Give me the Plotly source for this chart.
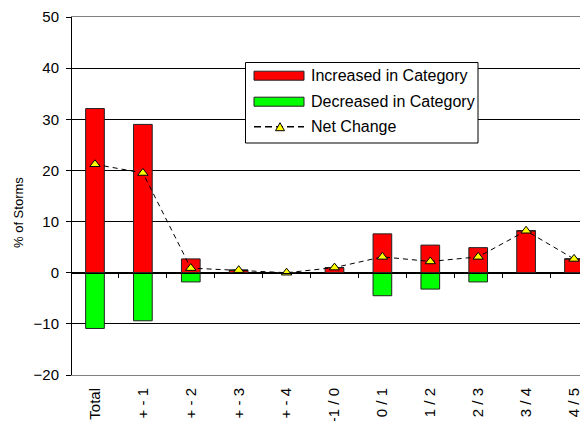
import plotly.graph_objects as go

categories = ["Total", "+ - 1", "+ - 2", "+ - 3", "+ - 4", "-1 / 0",
              "0 / 1", "1 / 2", "2 / 3", "3 / 4", "4 / 5"]
increased = [32.1, 29.0, 2.7, 0.5, 0.0, 1.0, 7.6, 5.4, 4.9, 8.2, 2.7]
decreased = [-10.9, -9.4, -1.8, 0.0, 0.0, 0.0, -4.5, -3.2, -1.8, 0.0, 0.0]
net_change = [21.2, 19.5, 0.9, 0.5, 0.0, 1.0, 3.1, 2.2, 3.1, 8.2, 2.7]
y_ticks = [-20, -10, 0, 10, 20, 30, 40, 50]
legend_labels = ["Increased in Category", "Decreased in Category", "Net Change"]

# the page body has an 8px margin, so the figure is 8px smaller and everything is
# expressed in page pixels (plot area: x 72..588, y 17..375)
OFF = 8
W, H = 588 - OFF, 421 - OFF
L, R, T = 72 - OFF, 0, 17 - OFF
B = H - (375 - OFF)
PW, PH = W - L - R, H - T - B


def px(xp):
    return (xp - OFF - L) / PW


def py(yp):
    return (H - B - (yp - OFF)) / PH


idx = list(range(len(categories)))
FONT = "Liberation Sans, Arial, sans-serif"

fig = go.Figure()
fig.add_trace(go.Bar(x=idx, y=increased, name=legend_labels[0], width=0.39,
                     marker=dict(color="#FF0000", line=dict(color="#222222", width=1)),
                     showlegend=False))
fig.add_trace(go.Bar(x=idx, y=decreased, name=legend_labels[1], width=0.39,
                     marker=dict(color="#00FF00", line=dict(color="#222222", width=1)),
                     showlegend=False))
fig.add_trace(go.Scatter(x=idx, y=net_change, name=legend_labels[2], mode="lines+markers",
                         line=dict(color="black", width=1, dash="5px,4px"),
                         marker=dict(symbol="triangle-up", size=9, color="#FFFF00",
                                     line=dict(color="black", width=1)),
                         showlegend=False))
# dummy trace so the zero-line axis exists
fig.add_trace(go.Scatter(x=[None], y=[None], xaxis="x2", showlegend=False, hoverinfo="skip"))

xr = [-0.48, -0.48 + PW / 47.9]
fig.update_layout(
    width=W, height=H,
    margin=dict(l=L, r=R, t=T, b=B),
    paper_bgcolor="white", plot_bgcolor="white",
    barmode="relative",
    font=dict(family=FONT, color="black"),
    xaxis=dict(range=xr, tickvals=idx, ticktext=categories, tickangle=-90,
               showgrid=False, zeroline=False, showline=True, linecolor="#808080",
               linewidth=1, mirror=True, ticks="outside", ticklen=6, tickcolor="rgba(0,0,0,0)",
               tickfont=dict(size=15, family=FONT, color="black"), automargin=False),
    xaxis2=dict(overlaying="x", anchor="free", position=20 / 70, range=xr,
                tickvals=[i + 0.5 for i in idx[:-1]], showticklabels=False,
                ticks="outside", ticklen=4, tickcolor="black", showline=True,
                linecolor="black", linewidth=1, showgrid=False, zeroline=False),
    yaxis=dict(range=[-20, 50], tickvals=y_ticks, showgrid=True, gridcolor="black",
               gridwidth=1, zeroline=False, showline=True, linecolor="black", linewidth=1,
               ticks="outside", ticklen=5, tickcolor="black", ticklabelstandoff=4,
               tickfont=dict(size=15, family=FONT, color="black"), automargin=False),
)

# axis title
fig.add_annotation(text="% of Storms", xref="paper", yref="paper", x=px(18), y=py(213),
                   xanchor="center", yanchor="middle",
                   textangle=-90, showarrow=False, font=dict(size=13, family=FONT, color="black"))

# custom legend
shapes = []
shapes.append(dict(type="rect", xref="paper", yref="paper", x0=px(245.5), x1=px(478),
                   y0=py(143), y1=py(62.5), line=dict(color="black", width=1), fillcolor="white"))
rows = [75.7, 101.7, 126.7]
for ry, col in zip(rows[:2], ["#FF0000", "#00FF00"]):
    shapes.append(dict(type="rect", xref="paper", yref="paper", x0=px(254), x1=px(304),
                       y0=py(ry + 4.5), y1=py(ry - 4.5), line=dict(color="#222222", width=1),
                       fillcolor=col))
shapes.append(dict(type="line", xref="paper", yref="paper", x0=px(254), x1=px(304),
                   y0=py(rows[2]), y1=py(rows[2]), line=dict(color="black", width=1.5, dash="7px,4px")))
cx, cy = 280, rows[2]
shapes.append(dict(type="path", xref="paper", yref="paper",
                   path=f"M {px(cx-4.5)},{py(cy+4)} L {px(cx+4.5)},{py(cy+4)} L {px(cx)},{py(cy-4)} Z",
                   line=dict(color="black", width=1), fillcolor="#FFFF00"))
fig.update_layout(shapes=shapes)
for ry, lab in zip(rows, legend_labels):
    fig.add_annotation(text=lab, xref="paper", yref="paper", x=px(309), y=py(ry),
                       xanchor="left", yanchor="middle", showarrow=False,
                       font=dict(size=16, family=FONT, color="black"))

fig.write_html("out.html")
